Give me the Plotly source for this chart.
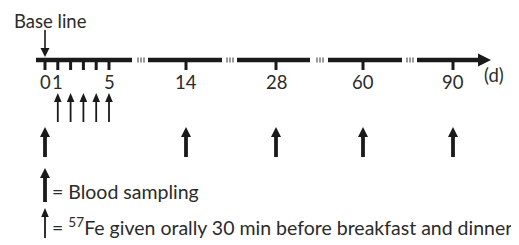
import numpy as np
import plotly.graph_objects as go

# ---- data ----
days = [0, 1, 2, 3, 4, 5, 14, 28, 60, 90]
tick_labels = ["0", "1", "", "", "", "5", "14", "28", "60", "90"]
fe_days = [1, 2, 3, 4, 5]          # 57Fe given orally
blood_days = [0, 14, 28, 60, 90]   # blood sampling
baseline_day = 0

# ---- broken-axis scale (day -> horizontal position) ----
anchor_days = [0, 5, 14, 28, 60, 90]
anchor_pos = [45, 109, 186, 276, 363, 453]


def xpos(d):
    return float(np.interp(d, anchor_days, anchor_pos))


# axis segments (start, end) and break marks
segments = [(36, 132), (148, 222), (237, 310), (328, 402), (417, 480)]
breaks = [141, 230, 320, 410]

FONT = "Lato"
INK = "#1a1a1a"
TEXT = "#2b2b2b"
LINE_Y = 60

shapes = []


def line(x0, y0, x1, y1, w, color=INK):
    shapes.append(dict(type="line", x0=x0, y0=y0, x1=x1, y1=y1, xref="x", yref="y",
                       line=dict(color=color, width=w)))


def tri(xc, ytip, half, h, direction=1, color=INK):
    yb = ytip + h * direction
    shapes.append(dict(type="path", xref="x", yref="y",
                       path=f"M {xc-half},{yb} L {xc+half},{yb} L {xc},{ytip} Z",
                       fillcolor=color, line=dict(width=0)))


def tri_right(xtip, yc, half, w, color=INK):
    shapes.append(dict(type="path", xref="x", yref="y",
                       path=f"M {xtip-w},{yc-half} L {xtip-w},{yc+half} L {xtip},{yc} Z",
                       fillcolor=color, line=dict(width=0)))


def arrow_up(x, ytip, ybot, stem, half, h):
    line(x, ybot, x, ytip + h - 1, stem)
    tri(x, ytip, half, h, 1)


# timeline
for a, b in segments:
    line(a, LINE_Y, b, LINE_Y, 4.5)
tri_right(491, LINE_Y, 6.5, 13)
for bx in breaks:
    for dx in (-3, 0, 3):
        line(bx + dx, LINE_Y - 2.5, bx + dx, LINE_Y + 2.5, 1.2, "#555555")

# ticks
for d in days:
    line(xpos(d), LINE_Y, xpos(d), 70, 3)

# base line arrow (pointing down)
bx = xpos(baseline_day)
line(bx, 30, bx, 49, 1.6)
tri(bx, 57, 4.5, 9, -1)

# 57Fe arrows (thin)
for d in fe_days:
    arrow_up(xpos(d), 93, 122, 1.8, 3.8, 9)

# blood sampling arrows (thick)
for d in blood_days:
    arrow_up(xpos(d), 127, 157, 3.8, 5, 10)

# legend arrows
arrow_up(45, 168, 202, 3.8, 5, 10)
arrow_up(45, 208, 238, 1.8, 3.8, 9)

annotations = []


def text(x, y, s, size=18, anchor="center"):
    annotations.append(dict(x=x, y=y, xref="x", yref="y", text=s, showarrow=False,
                            xanchor=anchor, yanchor="middle",
                            font=dict(family=FONT, size=size, color=TEXT)))


text(12, 21, "Base line", 18.5, "left")
for d, lab in zip(days, tick_labels):
    if lab:
        text(xpos(d), 82, lab, 18.5)
text(494, 75, "(d)", 18.5)
text(50, 191, "= Blood sampling", 19.5, "left")
text(50, 226, "= <sup>57</sup>Fe given orally 30 min before breakfast and dinner", 19.5, "left")

# page body has an 8px default margin: the figure starts at page pixel 8
OFF = 8
fig = go.Figure()
fig.update_layout(
    width=519 - OFF, height=245 - OFF,
    margin=dict(l=0, r=0, t=0, b=0),
    paper_bgcolor="white", plot_bgcolor="white",
    xaxis=dict(range=[OFF, 519], visible=False, fixedrange=True),
    yaxis=dict(range=[245, OFF], visible=False, fixedrange=True),
    shapes=shapes, annotations=annotations, showlegend=False,
)
fig.write_html("out.html")
